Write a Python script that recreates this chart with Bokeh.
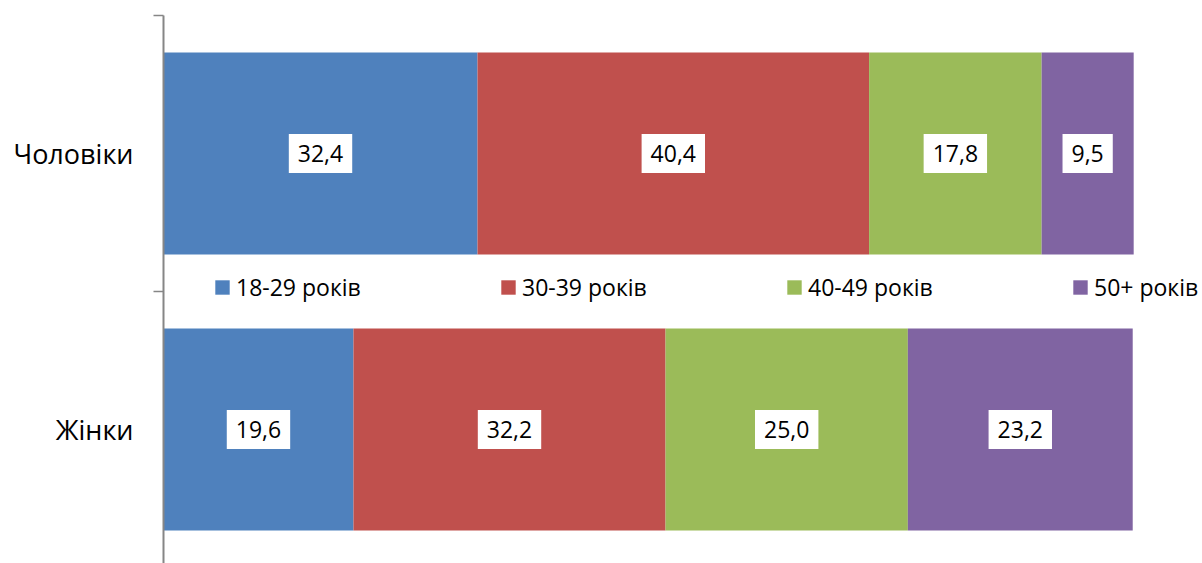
from bokeh.plotting import figure
from bokeh.models import ColumnDataSource, Range1d, FixedTicker, Legend, LegendItem
from bokeh.core.properties import value
from bokeh.embed import file_html
from bokeh.resources import INLINE

categories = ["Жінки", "Чоловіки"]
groups = ["18-29 років", "30-39 років", "40-49 років", "50+ років"]
v_18_29 = [19.6, 32.4]
v_30_39 = [32.2, 40.4]
v_40_49 = [25.0, 17.8]
v_50p = [23.2, 9.5]
colors = ["#4F81BD", "#C0504D", "#9BBB59", "#8064A2"]

FONT = "Open Sans"
ypos = [0, 1]
keys = ["g0", "g1", "g2", "g3"]
series = [v_18_29, v_30_39, v_40_49, v_50p]
src = ColumnDataSource(dict(y=ypos, **{k: s for k, s in zip(keys, series)}))

p = figure(width=1202, height=563, output_backend="svg", toolbar_location=None,
           x_range=Range1d(0, 107.2), y_range=Range1d(-0.4855, 1.5),
           min_border_left=163, min_border_top=15, min_border_bottom=0, min_border_right=0)
p.outline_line_color = None
p.xgrid.visible = False
p.ygrid.visible = False
p.xaxis.visible = False

rs = p.hbar_stack(keys, y="y", height=0.732, color=colors, source=src, line_color=None)

# labels
lx, ly, lt = [], [], []
for i in range(len(ypos)):
    cum = 0.0
    for s in series:
        lx.append(cum + s[i] / 2)
        ly.append(ypos[i])
        lt.append(f"{s[i]:.1f}".replace(".", ","))
        cum += s[i]
p.text(x=lx, y=ly, text=lt, text_align="center", text_baseline="middle",
       text_font=value(FONT), text_font_size="23px", text_color="black",
       background_fill_color="white", padding=dict(left=9, right=9, top=11, bottom=11))

yax = p.yaxis[0]
yax.ticker = FixedTicker(ticks=ypos, minor_ticks=[0.5, 1.5])
yax.major_label_overrides = {0: categories[0], 1: categories[1]}
yax.major_tick_out = 0
yax.major_tick_in = 0
yax.minor_tick_out = 10
yax.minor_tick_in = 0
yax.minor_tick_line_color = "#868686"
yax.minor_tick_line_width = 1.5
yax.axis_line_color = "#868686"
yax.axis_line_width = 2
yax.major_label_standoff = 20
yax.major_label_text_font = FONT
yax.major_label_text_font_size = "27px"
yax.major_label_text_color = "black"

legend = Legend(items=[LegendItem(label=g, renderers=[r]) for g, r in zip(groups, rs)],
                orientation="horizontal", location=(50, 260), padding=0, margin=0,
                spacing=0, glyph_width=18, glyph_height=18, label_standoff=5,
                label_width=263, label_text_font=FONT, label_text_font_size="23px",
                label_text_color="black", border_line_alpha=0, background_fill_alpha=0)
p.add_layout(legend)

open("out.html", "w").write(file_html(p, INLINE))
